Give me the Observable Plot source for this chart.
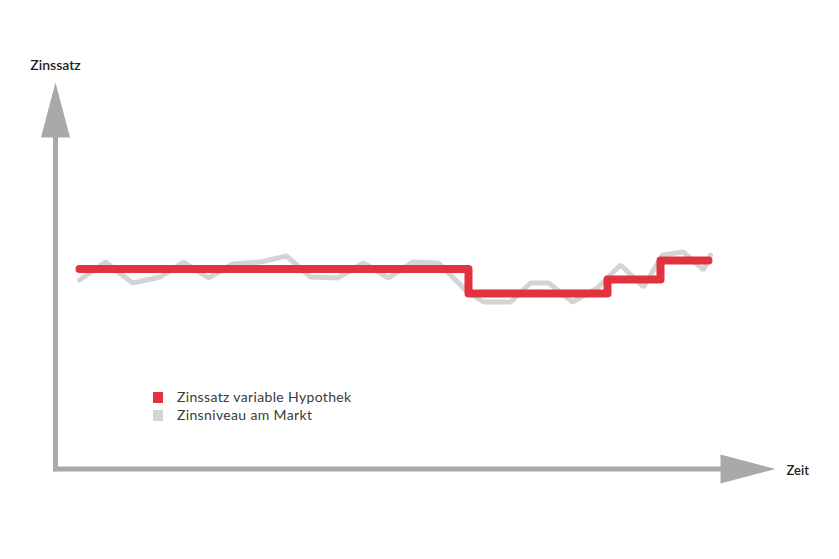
<!DOCTYPE html>
<html>
<head>
<meta charset="utf-8">
<script src="https://cdn.jsdelivr.net/npm/d3@7"></script>
<script src="https://cdn.jsdelivr.net/npm/@observablehq/plot@0.6"></script>
<style>
  html, body { margin: 0; padding: 0; background: #fff; }
  #wrap { position: relative; width: 839px; height: 559px; overflow: hidden; }
  #legend { position: absolute; left: 153px; top: 388px; font-family: Lato, "Open Sans", sans-serif; font-size: 14px; letter-spacing: 0.35px; color: #3a3a3a; line-height: 18px; }
  #legend .item { display: flex; align-items: center; }
  #legend .sw { width: 10px; height: 11px; margin-right: 14px; }
</style>
</head>
<body>
<div id="wrap">
  <div id="chart"></div>
  <div id="legend"></div>
</div>
<script>
// Zeit (arbitrary time units) and Zinsniveau am Markt (%)
const marketTime = [2.4, 5.0, 7.7, 10.5, 12.8, 15.3, 17.7, 20.5, 23.1, 25.5, 28.2, 30.8, 33.3, 35.7, 38.3, 41.2, 42.8, 45.5, 47.5, 49.3, 51.7, 54.2, 56.5, 58.8, 60.7, 62.8, 64.8, 65.5];
const marketRate = [1.89, 2.07, 1.86, 1.92, 2.07, 1.91, 2.05, 2.07, 2.13, 1.92, 1.91, 2.06, 1.91, 2.07, 2.06, 1.77, 1.67, 1.67, 1.86, 1.86, 1.67, 1.81, 2.04, 1.82, 2.14, 2.17, 1.99, 2.14];
// Zinssatz variable Hypothek (step changes)
const mortgageTime = [2.4, 41.3, 55.2, 60.5, 65.3];
const mortgageRate = [2.00, 1.755, 1.895, 2.085, 2.085];
// Axis extents
const axisTimeEnd = 66.5, axisTimeTip = 72;
const axisRateEnd = 3.33, axisRateTip = 3.865;
const labels = {y: "Zinssatz", x: "Zeit"};
const legendItems = [
  {label: "Zinssatz variable Hypothek", color: "#e2323f"},
  {label: "Zinsniveau am Markt", color: "#d4d4d4"}
];

const market = marketTime.map((t, i) => ({t, r: marketRate[i]}));
const mortgage = mortgageTime.map((t, i) => ({t, r: mortgageRate[i]}));
const axisGray = "#a9a9a9";

const arrowHead = {
  draw(ctx) {
    ctx.moveTo(0, 0);
    ctx.lineTo(14.5, 55);
    ctx.lineTo(-14.5, 55);
    ctx.closePath();
  }
};

const chart = Plot.plot({
  width: 839,
  height: 559,
  margin: 0,
  x: {domain: [0, 78.4], range: [55, 839], axis: null},
  y: {domain: [0, 4.685], range: [468.5, 0], axis: null},
  style: {fontFamily: "Lato, 'Open Sans', sans-serif", background: "#fff"},
  marks: [
    Plot.line([{t: 0, r: 0}, {t: 0, r: axisRateEnd}], {x: "t", y: "r", stroke: axisGray, strokeWidth: 5}),
    Plot.line([{t: 0, r: 0}, {t: axisTimeEnd, r: 0}], {x: "t", y: "r", stroke: axisGray, strokeWidth: 5, strokeLinecap: "square"}),
    Plot.dot([{t: 0, r: axisRateTip}], {x: "t", y: "r", symbol: arrowHead, fill: axisGray, stroke: "none", r: 10}),
    Plot.dot([{t: axisTimeTip, r: 0}], {x: "t", y: "r", symbol: arrowHead, fill: axisGray, stroke: "none", r: 10, rotate: 90}),
    Plot.text([{t: 0, r: axisRateTip, s: labels.y}], {x: "t", y: "r", text: "s", dy: -17, fontSize: 14, fontWeight: 600, fill: "#222", textAnchor: "middle"}),
    Plot.text([{t: axisTimeTip, r: 0, s: labels.x}], {x: "t", y: "r", text: "s", dx: 11, dy: 2, fontSize: 13, fontWeight: 600, fill: "#222", textAnchor: "start"}),
    Plot.line(market, {x: "t", y: "r", stroke: "#d4d4d4", strokeWidth: 5, strokeLinejoin: "miter"}),
    Plot.line(mortgage, {x: "t", y: "r", curve: "step-after", stroke: "#e2323f", strokeWidth: 8, strokeLinecap: "round", strokeLinejoin: "round"})
  ]
});
document.getElementById("chart").appendChild(chart);

const legend = document.getElementById("legend");
for (const it of legendItems) {
  const row = document.createElement("div");
  row.className = "item";
  const sw = document.createElement("span");
  sw.className = "sw";
  sw.style.background = it.color;
  const tx = document.createElement("span");
  tx.textContent = it.label;
  row.appendChild(sw);
  row.appendChild(tx);
  legend.appendChild(row);
}
</script>
</body>
</html>
